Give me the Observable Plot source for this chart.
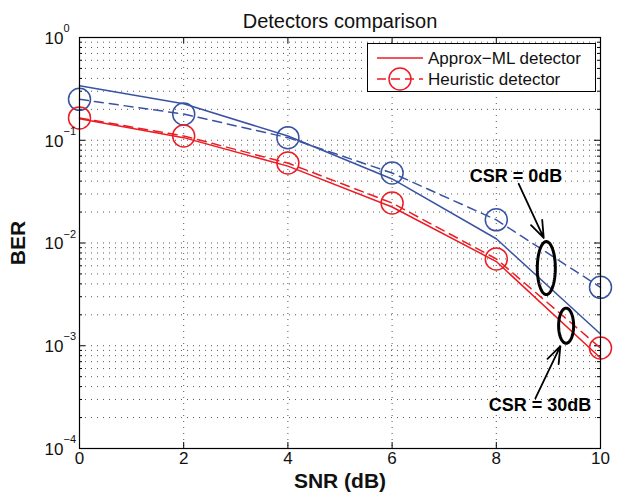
<!DOCTYPE html>
<html><head><meta charset="utf-8">
<script src="https://cdn.jsdelivr.net/npm/d3@7"></script>
<script src="https://cdn.jsdelivr.net/npm/@observablehq/plot@0.6"></script>
<style>
body{margin:0;background:#fff;}
#wrap{position:relative;width:631px;height:502px;font-family:"Liberation Sans",Arial,sans-serif;}
#wrap svg{overflow:visible}
</style>
</head><body><div id="wrap"></div>
<script>
// ---- data ----
const snr = [0, 2, 4, 6, 8, 10];
const approxMlCsr0 = [0.34, 0.227, 0.11, 0.042, 0.011, 0.0013];
const heuristicCsr0 = [0.25, 0.18, 0.106, 0.048, 0.0168, 0.0037];
const approxMlCsr30 = [0.162, 0.106, 0.056, 0.0224, 0.0066, 0.00076];
const heuristicCsr30 = [0.165, 0.11, 0.06, 0.0245, 0.007, 0.00095];
const xTicks = [0, 2, 4, 6, 8, 10];
const yDecades = [1e-4, 1e-3, 1e-2, 1e-1, 1];
const yExponents = ["−4", "−3", "−2", "−1", "0"];
const legendLabels = ["Approx−ML detector", "Heuristic detector"];
const annotationLabels = ["CSR = 0dB", "CSR = 30dB"];
// annotation anchors in data coordinates (SNR, BER)
const annotationText = [{x: 8.38, y: 0.045}, {x: 8.84, y: 0.000263}];
const annotationArrows = [
  {x1: 8.43, y1: 0.0377, x2: 8.91, y2: 0.0112},
  {x1: 8.75, y1: 0.000308, x2: 9.23, y2: 0.00099}
];
// ellipse centers (SNR, BER), half-width (SNR), half-height (decades)
const annotationEllipses = [
  {cx: 8.96, cy: 0.0057, rx: 0.173, ry: 0.258},
  {cx: 9.34, cy: 0.001567, rx: 0.144, ry: 0.171}
];

const red = "#ec1c24", blue = "#3953a4";
const W = 631, H = 502, mL = 79, mR = 31, mT = 37, mB = 54;
const frameW = W - mL - mR, frameH = H - mT - mB;

const toRows = vals => snr.map((x, i) => ({x, y: vals[i]}));
const minorY = [];
for (let k = -4; k <= -1; k++) for (let m = 2; m <= 9; m++) minorY.push(m * Math.pow(10, k));
const gridY = [...minorY, 1e-3, 1e-2, 1e-1];
const gridX = [2, 4, 6, 8];

function ellipsePts(e) {
  const pts = [];
  for (let i = 0; i <= 72; i++) {
    const t = i / 72 * 2 * Math.PI;
    pts.push({x: e.cx + e.rx * Math.cos(t), y: Math.pow(10, Math.log10(e.cy) + e.ry * Math.sin(t))});
  }
  return pts;
}

const dotted = {stroke: "#444", strokeWidth: 0.9, strokeDasharray: "1,5"};
const fs = {fontFamily: "Liberation Sans, Arial, sans-serif"};

const chart = Plot.plot({
  width: W, height: H,
  marginLeft: mL, marginRight: mR, marginTop: mT, marginBottom: mB,
  style: {fontFamily: "Liberation Sans, Arial, sans-serif", background: "white", overflow: "visible"},
  x: {domain: [0, 10], axis: null},
  y: {type: "log", domain: [1e-4, 1], axis: null},
  marks: [
    Plot.ruleY(gridY, {y: d => d, ...dotted}),
    Plot.ruleX(gridX, {x: d => d, ...dotted}),
    // inward ticks
    Plot.tickX(xTicks, {x: d => d, insetTop: frameH - 6, stroke: "black"}),
    Plot.tickX(xTicks, {x: d => d, insetBottom: frameH - 6, stroke: "black"}),
    Plot.tickY(yDecades, {y: d => d, insetRight: frameW - 6, stroke: "black"}),
    Plot.tickY(yDecades, {y: d => d, insetLeft: frameW - 6, stroke: "black"}),
    Plot.tickY(minorY, {y: d => d, insetRight: frameW - 3, stroke: "black"}),
    Plot.tickY(minorY, {y: d => d, insetLeft: frameW - 3, stroke: "black"}),
    // curves
    Plot.line(toRows(approxMlCsr0), {x: "x", y: "y", stroke: blue, strokeWidth: 1.5}),
    Plot.line(toRows(heuristicCsr0), {x: "x", y: "y", stroke: blue, strokeWidth: 1.5, strokeDasharray: "9,6"}),
    Plot.dot(toRows(heuristicCsr0), {x: "x", y: "y", r: 11, stroke: blue, strokeWidth: 1.5, fill: "none"}),
    Plot.line(toRows(approxMlCsr30), {x: "x", y: "y", stroke: red, strokeWidth: 1.5}),
    Plot.line(toRows(heuristicCsr30), {x: "x", y: "y", stroke: red, strokeWidth: 1.5, strokeDasharray: "9,6"}),
    Plot.dot(toRows(heuristicCsr30), {x: "x", y: "y", r: 11, stroke: red, strokeWidth: 1.5, fill: "none"}),
    Plot.frame({stroke: "black", strokeWidth: 1.2}),
    // annotations
    ...annotationEllipses.map(e => Plot.line(ellipsePts(e), {x: "x", y: "y", stroke: "black", strokeWidth: 3})),
    Plot.arrow(annotationArrows, {x1: "x1", y1: "y1", x2: "x2", y2: "y2", stroke: "black", strokeWidth: 1.8, headLength: 15, headAngle: 40}),
    Plot.text(annotationText, {x: "x", y: "y", text: (d, i) => annotationLabels[i], fontSize: 18, fontWeight: "bold", fill: "black", ...fs}),
    // tick labels
    Plot.text(xTicks, {x: d => d, frameAnchor: "bottom", dy: 15, text: d => String(d), fontSize: 17, fill: "#111"}),
    Plot.text(yDecades, {y: d => d, frameAnchor: "left", dx: -16, dy: 1, textAnchor: "end", text: () => "10", fontSize: 17, fill: "#111"}),
    Plot.text(yDecades, {y: d => d, frameAnchor: "left", dx: -16, dy: -9, textAnchor: "start", text: (d, i) => yExponents[i], fontSize: 11, fill: "#111"}),
    // titles
    Plot.text(["Detectors comparison"], {frameAnchor: "top", dy: -24, fontSize: 20, fill: "#111"}),
    Plot.text(["SNR (dB)"], {frameAnchor: "bottom", dy: 39, fontSize: 21, fontWeight: "bold", fill: "#111"}),
    Plot.text(["BER"], {x: () => -1.17, y: () => 0.01, rotate: -90, fontSize: 21, fontWeight: "bold", fill: "#111"})
  ]
});
const wrap = document.getElementById("wrap");
wrap.appendChild(chart);

// legend overlay
const lg = d3.select(wrap).append("svg")
  .attr("width", 230).attr("height", 50)
  .style("position", "absolute").style("left", "367px").style("top", "43px");
lg.append("rect").attr("x", 0.5).attr("y", 0.5).attr("width", 228).attr("height", 48)
  .attr("fill", "white").attr("stroke", "black").attr("stroke-width", 1);
lg.append("line").attr("x1", 10).attr("x2", 56).attr("y1", 15).attr("y2", 15)
  .attr("stroke", red).attr("stroke-width", 1.5);
lg.append("line").attr("x1", 10).attr("x2", 56).attr("y1", 36).attr("y2", 36)
  .attr("stroke", red).attr("stroke-width", 1.5).attr("stroke-dasharray", "9,5");
lg.append("circle").attr("cx", 33).attr("cy", 36).attr("r", 11)
  .attr("fill", "none").attr("stroke", red).attr("stroke-width", 1.5);
legendLabels.forEach((t, i) => {
  lg.append("text").attr("x", 61).attr("y", 15 + i * 21).attr("dy", "0.35em")
    .attr("font-size", 17).attr("fill", "#111")
    .attr("font-family", "Liberation Sans, Arial, sans-serif").text(t);
});
</script>
</body></html>
